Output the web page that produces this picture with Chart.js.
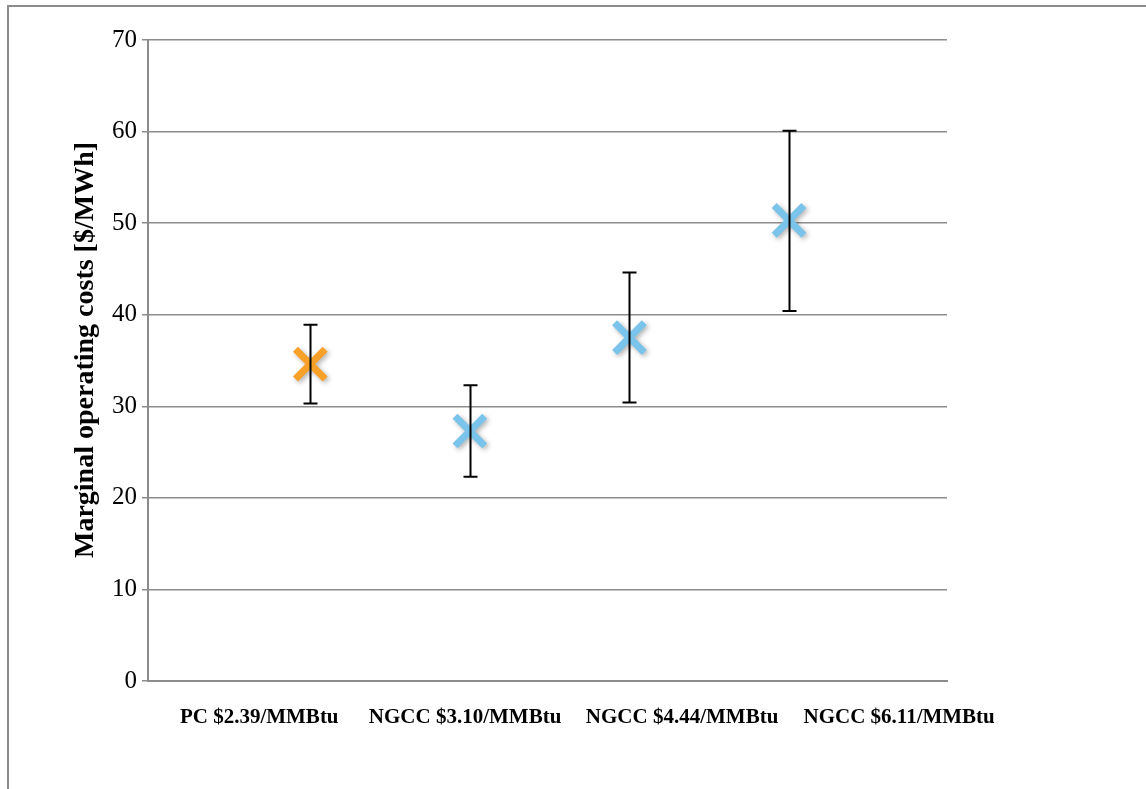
<!DOCTYPE html>
<html>
<head>
<meta charset="utf-8">
<script src="https://cdn.jsdelivr.net/npm/chart.js@4.4.1/dist/chart.umd.min.js"></script>
<style>
  html, body { margin: 0; padding: 0; background: #fff; }
  #wrap { position: relative; width: 1146px; height: 789px; }
  #frame { position: absolute; left: 7px; top: 5px; right: -10px; bottom: -10px;
           border-left: 2px solid #8c8c8c; border-top: 2px solid #8c8c8c; }
  canvas { position: absolute; left: 0; top: 0; }
</style>
</head>
<body>
<div id="wrap">
  <div id="frame"></div>
  <canvas id="costChart" width="1146" height="789"></canvas>
</div>
<script>
// data
const categories = ["PC $2.39/MMBtu", "NGCC $3.10/MMBtu", "NGCC $4.44/MMBtu", "NGCC $6.11/MMBtu"];
const xIndex = [1, 2, 3, 4];
const midValues = [34.6, 27.3, 37.5, 50.3];
const lowValues = [30.3, 22.3, 30.4, 40.4];
const highValues = [38.9, 32.3, 44.6, 60.1];
const pointColors = ["#f7a129", "#7ac3ea", "#7ac3ea", "#7ac3ea"];
const yTicks = [0, 10, 20, 30, 40, 50, 60, 70];
// where category labels sit along the x axis (in axis units)
const labelAt = [0.68, 1.97, 3.33, 4.69];

const points = xIndex.map((x, i) => ({ x: x, y: midValues[i], lo: lowValues[i], hi: highValues[i] }));

// soft shadow under the markers
const markerShadow = {
    id: "markerShadow",
    beforeDatasetsDraw(chart) {
        const c = chart.ctx;
        c.save();
        c.shadowColor = "rgba(0,0,0,0.3)";
        c.shadowBlur = 5;
        c.shadowOffsetX = 2;
        c.shadowOffsetY = 2;
    },
    afterDatasetsDraw(chart) {
        chart.ctx.restore();
    }
};

// draws the min/max whiskers on top of the markers
const errorBars = {
    id: "errorBars",
    afterDatasetsDraw(chart) {
        const ctx = chart.ctx;
        const xs = chart.scales.x, ys = chart.scales.y;
        ctx.save();
        ctx.strokeStyle = "#000";
        ctx.lineWidth = 2;
        points.forEach(p => {
            const px = Math.round(xs.getPixelForValue(p.x)) + 0.5;
            const top = ys.getPixelForValue(p.hi);
            const bot = ys.getPixelForValue(p.lo);
            ctx.beginPath();
            ctx.moveTo(px, top); ctx.lineTo(px, bot);
            ctx.moveTo(px - 7, top); ctx.lineTo(px + 7, top);
            ctx.moveTo(px - 7, bot); ctx.lineTo(px + 7, bot);
            ctx.stroke();
        });
        ctx.restore();
    }
};

const ctx = document.getElementById("costChart").getContext("2d");
new Chart(ctx, {
    type: "scatter",
    data: {
        datasets: [{
            data: points,
            pointStyle: "crossRot",
            pointRadius: 21,
            pointHoverRadius: 21,
            pointBorderWidth: 7,
            borderColor: pointColors,
            backgroundColor: pointColors,
            pointBorderColor: pointColors
        }]
    },
    options: {
        responsive: false,
        animation: false,
        layout: { padding: { left: 9, top: 40, right: 199, bottom: 0 } },
        plugins: {
            legend: { display: false },
            tooltip: { enabled: false }
        },
        scales: {
            x: {
                type: "linear",
                min: -0.017,
                max: 4.99,
                afterFit(scale) { scale.height = 108; },
                afterBuildTicks(scale) { scale.ticks = labelAt.map(v => ({ value: v })); },
                grid: { display: false },
                border: { display: true, color: "#8c8c8c", width: 2 },
                ticks: {
                    autoSkip: false,
                    maxRotation: 0,
                    padding: 16,
                    color: "#000",
                    font: { family: "Liberation Serif", size: 21, weight: "bold" },
                    callback(value, i) { return categories[i]; }
                }
            },
            y: {
                min: 0,
                max: 70,
                afterFit(scale) { scale.width = 139; },
                afterBuildTicks(scale) { scale.ticks = yTicks.map(v => ({ value: v })); },
                grid: { color: "#8c8c8c", lineWidth: 1.5, tickLength: 6 },
                border: { display: true, color: "#8c8c8c", width: 2 },
                ticks: {
                    padding: 5,
                    color: "#000",
                    font: { family: "Liberation Serif", size: 25 }
                },
                title: {
                    display: true,
                    // leading spaces nudge the centred title slightly upward
                    text: "\u00a0\u00a0\u00a0Marginal operating costs [$/MWh]",
                    color: "#000",
                    padding: { top: 60, bottom: 0 },
                    font: { family: "Liberation Serif", size: 28, weight: "bold" }
                }
            }
        }
    },
    plugins: [markerShadow, errorBars]
});
</script>
</body>
</html>
